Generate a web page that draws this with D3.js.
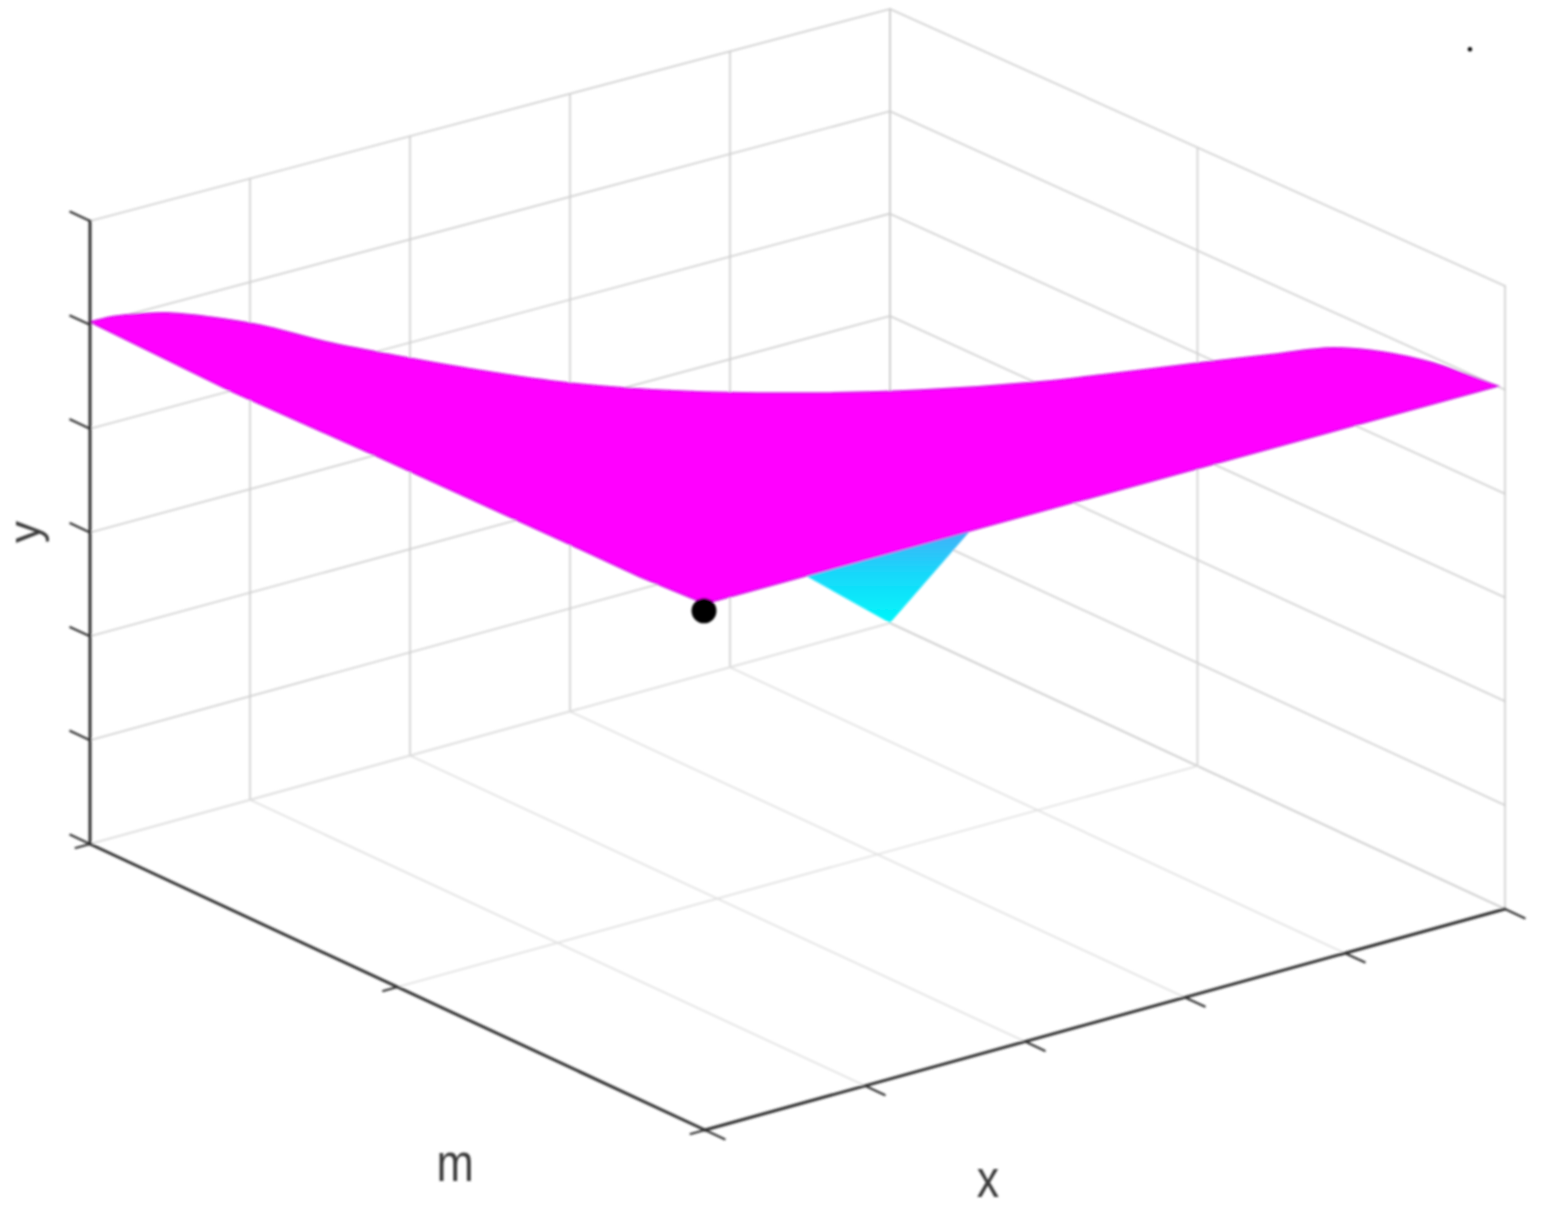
<!DOCTYPE html>
<html>
<head>
<meta charset="utf-8">
<script src="https://cdn.jsdelivr.net/npm/d3@7"></script>
<style>
html,body{margin:0;padding:0;background:#fff}
svg{display:block}
text{font-family:"Liberation Sans",Arial,sans-serif;fill:#3a3a3a}
</style>
</head>
<body>
<svg id="chart" width="1544" height="1214"></svg>
<script>
// Axis ticks
const xTicks = [0, 1, 2, 3, 4, 5];
const mTicks = [0, 0.5, 1];
const yTicks = [0, 1, 2, 3, 4, 5, 6];

// Magenta surface: upper silhouette, read along the x/m diagonal
const edgeX = [0, 0.071, 0.141, 0.272, 0.424, 0.601, 0.837, 1.071, 1.367, 1.696, 2.085, 2.509, 2.933, 3.357, 3.569, 3.922, 4.159, 4.392, 4.569, 4.746, 4.859, 4.975];
const edgeM = [1, 0.986, 0.972, 0.946, 0.915, 0.880, 0.832, 0.786, 0.727, 0.661, 0.583, 0.498, 0.413, 0.329, 0.286, 0.216, 0.168, 0.122, 0.086, 0.051, 0.028, 0.005];
const edgeY = [5.027, 5.085, 5.119, 5.152, 5.134, 5.081, 4.950, 4.855, 4.751, 4.667, 4.640, 4.675, 4.756, 4.885, 4.979, 5.136, 5.241, 5.335, 5.317, 5.231, 5.137, 5.034];
// Magenta surface: lower edge, from the near corner back to x=0, m=1
const lowerX = [0, 0, 0, 0, 0];
const lowerM = [0, 0.106, 0.236, 0.528, 0.772];
const lowerY = [5.07, 5.036, 5.034, 5.02, 4.992];

// Cyan surface: the part visible below the magenta one
const cyanX = [4.375, 5, 5];
const cyanM = [1, 1, 0.86];
const cyanY = [0.816, 0.0, 1.357];

// Point markers
const dotX = [0], dotM = [0], dotY = [5.0];
const specX = [5], specM = [0.057], specY = [8.13];

// Projection built from linear scales: each axis contributes a screen offset,
// and the vertical extent shrinks slightly toward the far corner
const originX = 705, originY = 1130;
const xToPx = d3.scaleLinear().domain([0, 5]).range([0, 800]);
const xToPy = d3.scaleLinear().domain([0, 5]).range([0, -221]);
const mToPx = d3.scaleLinear().domain([0, 1]).range([0, -615]);
const mToPy = d3.scaleLinear().domain([0, 1]).range([0, -286]);
const yToPy = d3.scaleLinear().domain([0, 6]).range([0, -623]);
const depth = d3.scaleLinear().domain([0, 5]).range([0, 0.0144]);
const project = (x, m, y) => [
  originX + xToPx(x) + mToPx(m),
  originY + xToPy(x) + mToPy(m) + yToPy(y) * (1 - depth(x) * m)
];

const svg = d3.select("#chart");
const defs = svg.append("defs");
defs.append("filter").attr("id", "soft")
  .attr("x", "-5%").attr("y", "-5%").attr("width", "110%").attr("height", "110%")
  .append("feGaussianBlur").attr("stdDeviation", 0.9);
const grad = defs.append("linearGradient").attr("id", "cyanFill")
  .attr("x1", 0).attr("y1", 0).attr("x2", 0).attr("y2", 1);
grad.append("stop").attr("offset", "0%").attr("stop-color", "#4aa8f8");
grad.append("stop").attr("offset", "50%").attr("stop-color", "#18d8fa");
grad.append("stop").attr("offset", "100%").attr("stop-color", "#00f6fa");

const root = svg.append("g").attr("filter", "url(#soft)");
const seg = (g, a, b, stroke, width) => g.append("line")
  .attr("x1", a[0]).attr("y1", a[1]).attr("x2", b[0]).attr("y2", b[1])
  .attr("stroke", stroke).attr("stroke-width", width).attr("stroke-linecap", "round");

// Grids
const grid = root.append("g");
const wallColor = "#cfcfcf", floorColor = "#e0e0e0";
xTicks.forEach(x => {
  seg(grid, project(x, 1, 0), project(x, 1, 6), wallColor, 1.6);
  seg(grid, project(x, 0, 0), project(x, 1, 0), x === 5 ? wallColor : floorColor, 1.6);
});
yTicks.forEach(y => {
  seg(grid, project(0, 1, y), project(5, 1, y), wallColor, 1.6);
  seg(grid, project(5, 1, y), project(5, 0, y), wallColor, 1.6);
});
mTicks.forEach(m => {
  seg(grid, project(5, m, 0), project(5, m, 6), wallColor, 1.6);
  seg(grid, project(0, m, 0), project(5, m, 0), floorColor, 1.6);
});

// Surfaces
const cyanPts = cyanX.map((x, i) => project(x, cyanM[i], cyanY[i]));
root.append("path")
  .attr("d", d3.line()(cyanPts) + "Z")
  .attr("fill", "url(#cyanFill)");

const edgePts = edgeX.map((x, i) => project(x, edgeM[i], edgeY[i]));
const lowerPts = lowerX.map((x, i) => project(x, lowerM[i], lowerY[i]));
root.append("path")
  .attr("d", d3.line().curve(d3.curveCatmullRom)(edgePts) + "L" + lowerPts.map(p => p.join(",")).join("L") + "Z")
  .attr("fill", "#ff00ff")
  .attr("stroke", "#d414e6").attr("stroke-width", 1.6).attr("stroke-linejoin", "miter");

// Axes
const axisColor = "#333333";
const axes = root.append("g");
seg(axes, project(0, 1, 0), project(0, 1, 6), axisColor, 3);
seg(axes, project(0, 1, 0), project(0, 0, 0), axisColor, 3);
seg(axes, project(0, 0, 0), project(5, 0, 0), axisColor, 3);
const tickLenM = 0.032, tickLenX = 0.09;
yTicks.forEach(y => seg(axes, project(0, 1, y), project(0, 1 + tickLenM, y), axisColor, 2.2));
xTicks.forEach(x => seg(axes, project(x, 0, 0), project(x, -tickLenM, 0), axisColor, 2.2));
mTicks.forEach(m => seg(axes, project(0, m, 0), project(-tickLenX, m, 0), axisColor, 2.2));

// Markers
root.selectAll("circle.dot").data(dotX).join("circle").attr("class", "dot")
  .attr("cx", (d, i) => project(d, dotM[i], dotY[i])[0] - 1)
  .attr("cy", (d, i) => project(d, dotM[i], dotY[i])[1])
  .attr("r", 12.5).attr("fill", "#000");
root.selectAll("circle.spec").data(specX).join("circle").attr("class", "spec")
  .attr("cx", (d, i) => project(d, specM[i], specY[i])[0])
  .attr("cy", (d, i) => project(d, specM[i], specY[i])[1])
  .attr("r", 2.2).attr("fill", "#000");

// Axis titles
const label = (txt, px, py, rot, size, sx) => root.append("text")
  .attr("transform", `translate(${px},${py}) rotate(${rot}) scale(${sx},1)`)
  .attr("text-anchor", "middle")
  .attr("font-size", size)
  .text(txt);
label("m", 455, 1181, 0, 52, 0.86);
label("x", 988, 1197, 0, 52, 0.86);
label("y", 40, 532, -90, 44, 1);
</script>
</body>
</html>
